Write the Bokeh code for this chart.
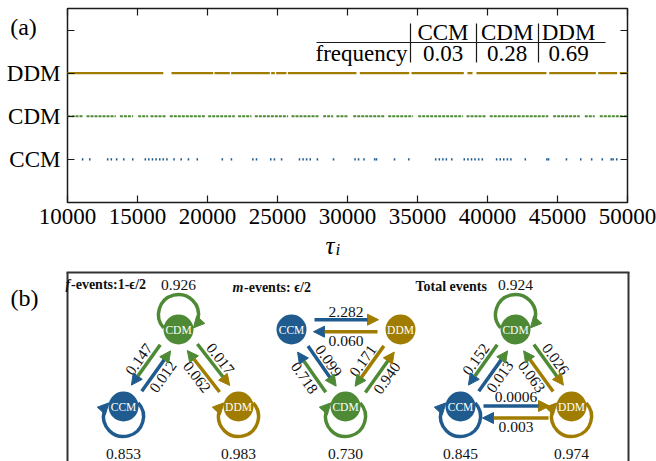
import math
from bokeh.plotting import figure
from bokeh.models import Range1d, FixedTicker, LinearAxis, Arrow, NormalHead, Label
from bokeh.layouts import column
from bokeh.embed import file_html
from bokeh.resources import INLINE
from bokeh.core.properties import value

# ---------------- data: panel (a) ----------------
state_names = ["CCM", "CDM", "DDM"]
state_levels = [1, 2, 3]
tau_ticks = [10000, 15000, 20000, 25000, 30000, 35000, 40000, 45000, 50000]
tau_start, tau_end = 10000, 50000

ccm_tau = [11080, 11590, 12870, 13130, 13510, 14020, 14660, 15560, 15810, 16070,
           16330, 16590, 16840, 17100, 17610, 18120, 18640, 19270, 21060, 21710,
           23240, 23500, 24520, 24780, 25290, 26570, 26830, 27080, 27340, 27850,
           29000, 30540, 30790, 31180, 31940, 32070, 33360, 34380, 36300, 36560,
           36810, 37060, 37450, 38340, 38600, 38860, 39110, 39370, 39630, 40650,
           40910, 41160, 41420, 41670, 42700, 44240, 44360, 45640, 46660, 47440,
           48200, 48840, 48970, 49230]

cdm_gap_start = [11120, 13450, 14690, 15760, 17070, 19810, 21950, 23140, 25760, 27980,
                 28980, 30050, 32660, 34690, 38260, 39930, 44340, 46590, 47660]
cdm_gap_end = [11360, 13740, 15050, 15930, 17310, 20050, 22190, 23380, 26000, 28260,
               29210, 30410, 32910, 35050, 38500, 40160, 44690, 46950, 48020]

ddm_gap_start = [16840, 20410, 21590, 24450, 24810, 25640, 30640, 34410, 38310, 38930,
                 44210, 47740, 49260]
ddm_gap_end = [17430, 20500, 21690, 24550, 24900, 25740, 30880, 34570, 38570, 39210,
               44410, 47910, 49450]

freq_labels = ["CCM", "CDM", "DDM"]
freq_values = [0.03, 0.28, 0.69]

# ---------------- data: panel (b) ----------------
f_src = ["CDM", "CDM", "CCM", "CDM", "DDM", "CCM", "DDM"]
f_dst = ["CDM", "CCM", "CDM", "DDM", "CDM", "CCM", "DDM"]
f_prob = [0.926, 0.147, 0.012, 0.017, 0.062, 0.853, 0.983]

m_src = ["CCM", "DDM", "CCM", "CDM", "DDM", "CDM", "CDM"]
m_dst = ["DDM", "CCM", "CDM", "CCM", "CDM", "DDM", "CDM"]
m_prob = [2.282, 0.060, 0.099, 0.718, 0.171, 0.940, 0.730]

t_src = ["CDM", "CDM", "CCM", "CDM", "DDM", "CCM", "DDM", "CCM", "DDM"]
t_dst = ["CDM", "CCM", "CDM", "DDM", "CDM", "DDM", "CCM", "CCM", "DDM"]
t_prob = [0.924, 0.152, 0.013, 0.026, 0.063, 0.0006, 0.003, 0.845, 0.974]

# ---------------- styles / layout ----------------
COL = {"CCM": "#1f5b8e", "CDM": "#4e8a35", "DDM": "#a07c00"}
SERIF = "Liberation Serif"
INK = "#1a1a1a"

# panel (a) geometry: frame at x 67..627, y 8..202 of a 656x265 canvas
FRAME_L, FRAME_W, FRAME_T, FRAME_H, H1 = 67, 560, 8, 194, 265
Y_TOP = 4.5
KX = (tau_end - tau_start) / FRAME_W
KY = Y_TOP / FRAME_H


def tx(px):  # canvas x -> tau
    return tau_start + (px - FRAME_L) * KX


def ty(py):  # canvas y -> state axis
    return Y_TOP - (py - FRAME_T) * KY


# ================= panel (a) =================
p1 = figure(width=656, height=H1, x_range=Range1d(tx(0), tx(656)), y_range=Range1d(ty(H1), ty(0)),
            output_backend="svg", toolbar_location=None, title=None,
            x_axis_location=None, y_axis_location=None, min_border=0)
p1.grid.visible = False
p1.outline_line_color = None
p1.background_fill_color = "white"
p1.border_fill_color = "white"

ov = {lvl: nm for lvl, nm in zip(state_levels, state_names)}
ov[4] = ""
ax_b = LinearAxis(ticker=FixedTicker(ticks=tau_ticks), fixed_location=0)
ax_t = LinearAxis(ticker=FixedTicker(ticks=tau_ticks), fixed_location=Y_TOP)
ax_l = LinearAxis(ticker=FixedTicker(ticks=state_levels + [4]), fixed_location=tau_start,
                  major_label_overrides=ov)
ax_r = LinearAxis(ticker=FixedTicker(ticks=state_levels + [4]), fixed_location=tau_end)
for ax in [ax_b, ax_t, ax_l, ax_r]:
    ax.axis_line_color = None
    ax.major_tick_in = 7
    ax.major_tick_out = 0
    ax.minor_tick_line_color = None
    ax.major_tick_line_color = INK
    ax.major_tick_line_width = 1.2
    ax.major_label_text_font = SERIF
    ax.major_label_text_font_size = "23px"
    ax.major_label_text_color = "black"
for ax in [ax_t, ax_r]:
    ax.major_label_text_font_size = "0px"
    ax.major_label_text_alpha = 0
ax_l.major_label_standoff = 7
ax_b.major_label_standoff = 6
p1.add_layout(ax_b, "below")
p1.add_layout(ax_t, "above")
p1.add_layout(ax_l, "left")
p1.add_layout(ax_r, "right")

# frame of panel (a)
p1.quad(left=[tau_start], right=[tau_end], bottom=[0], top=[Y_TOP], fill_color=None,
        line_color=INK, line_width=1.5)


def runs(gs, ge):
    return [tau_start] + list(ge), list(gs) + [tau_end]


x0, x1 = runs(ddm_gap_start, ddm_gap_end)
p1.segment(x0=x0, y0=[3] * len(x0), x1=x1, y1=[3] * len(x0), line_color=COL["DDM"], line_width=2.2)
x0, x1 = runs(cdm_gap_start, cdm_gap_end)
p1.segment(x0=x0, y0=[2] * len(x0), x1=x1, y1=[2] * len(x0), line_color=COL["CDM"],
           line_width=2, line_dash="3 1")
p1.rect(x=ccm_tau, y=[1] * len(ccm_tau), width=110, height=0.05,
        fill_color=COL["CCM"], line_color=None)

# frequency table
col_x = [tx(442.5), tx(506.7), tx(568)]
bar_x = [tx(410), tx(476), tx(538)]
p1.text(x=col_x, y=[ty(32)] * 3, text=freq_labels, text_font=value(SERIF), text_font_size="23px",
        text_align="center", text_baseline="middle", text_color="black")
p1.text(x=col_x, y=[ty(53)] * 3, text=[f"{v:.2f}" for v in freq_values], text_font=value(SERIF),
        text_font_size="23px", text_align="center", text_baseline="middle", text_color="black")
p1.text(x=[tx(407)], y=[ty(53)], text=["frequency"], text_font=value(SERIF), text_font_size="23px",
        text_align="right", text_baseline="middle", text_color="black")
p1.segment(x0=[tx(316)], y0=[ty(42)], x1=[tx(605)], y1=[ty(42)], line_color=INK, line_width=1.2)
p1.segment(x0=bar_x, y0=[ty(23)] * 3, x1=bar_x, y1=[ty(62)] * 3, line_color=INK, line_width=1.2)

p1.add_layout(Label(x=tx(23), y=ty(26), text="(a)", text_font=SERIF, text_font_size="24px",
                    text_align="center", text_baseline="middle", text_color="black"))
p1.add_layout(Label(x=tx(334), y=ty(245), text="τ", text_font=SERIF, text_font_size="25px",
                    text_font_style="italic", text_align="right", text_baseline="alphabetic",
                    text_color="black"))
p1.add_layout(Label(x=tx(335), y=ty(249), text="i", text_font=SERIF, text_font_size="17px",
                    text_font_style="italic", text_align="left", text_baseline="alphabetic",
                    text_color="black"))

# ================= panel (b) =================
# canvas 656x196 below panel (a); y measured upward from the window bottom (461)
H2 = 196
p2 = figure(width=656, height=H2, x_range=Range1d(0, 656), y_range=Range1d(0, H2),
            output_backend="svg", toolbar_location=None, title=None,
            x_axis_location=None, y_axis_location=None, min_border=0)
p2.grid.visible = False
p2.outline_line_color = None
p2.background_fill_color = "white"
p2.border_fill_color = "white"
p2.segment(x0=[67, 628, 66], y0=[0, 0, 189], x1=[67, 628, 629], y1=[189, 189, 189],
           line_color="#333333", line_width=2)

node_pos = {
    "f": {"CDM": (178, 132), "CCM": (123, 55), "DDM": (238, 55)},
    "m": {"CCM": (291, 132), "DDM": (400, 132), "CDM": (345, 55)},
    "t": {"CDM": (515, 132), "CCM": (460, 55), "DDM": (571, 55)},
}
loop_side = {
    "f": {"CDM": "top", "CCM": "bottom", "DDM": "bottom"},
    "m": {"CDM": "bottom"},
    "t": {"CDM": "top", "CCM": "bottom", "DDM": "bottom"},
}
# (a, b): (side of a->b arrow w.r.t. left normal of a->b, arrow-pair shift, label-pair shift)
pair_geom = {
    "f": {("CDM", "CCM"): (-1, 0.0, 0.0), ("CDM", "DDM"): (1, 0.0, 0.0)},
    "m": {("CCM", "DDM"): (1, 3.8, 3.0), ("CDM", "CCM"): (1, 2.0, 2.5),
          ("CDM", "DDM"): (-1, -2.0, -2.5)},
    "t": {("CDM", "CCM"): (-1, 0.0, 0.0), ("CDM", "DDM"): (1, 0.0, 0.0),
          ("CCM", "DDM"): (1, -5.5, -5.5)},
}

ARROW_OFF = 6.0
LABEL_OFF = 14.8
GAP_START = 23
GAP_END = 22
HEAD = 10
LW = 3.5
LOOP_R = 20
NUM_FONT = "15.5px"


def fmt(v):
    return f"{v:.4f}" if v < 0.001 else f"{v:.3f}"


def num_label(x, y, txt, ang=0.0):
    p2.text(x=[x], y=[y], text=[txt], angle=[ang], text_font=value(SERIF), text_font_size=NUM_FONT,
            text_align="center", text_baseline="middle", text_color="#111111")


def draw_diagram(key, src, dst, prob):
    pos = node_pos[key]
    for s, d, v in zip(src, dst, prob):
        if s == d:
            nx, ny = pos[s]
            c = COL[s]
            if loop_side[key][s] == "top":
                cy = ny + 15
                a_start, a_tip = 222.0, -42.0
                ly = ny + 45
            else:
                cy = ny - 10
                a_start, a_tip = 43.0, -223.0
                ly = ny - 47
            a_end = a_tip + math.degrees(HEAD / LOOP_R)
            p2.arc(x=[nx], y=[cy], radius=LOOP_R, start_angle=math.radians(a_start),
                   end_angle=math.radians(a_end), direction="clock", line_color=c, line_width=LW)
            t = math.radians(a_tip)
            tipx, tipy = nx + LOOP_R * math.cos(t), cy + LOOP_R * math.sin(t)
            tdx, tdy = math.sin(t), -math.cos(t)
            p2.add_layout(Arrow(end=NormalHead(size=HEAD + 1, fill_color=c, line_color=c, line_width=1),
                                x_start=tipx - HEAD * tdx, y_start=tipy - HEAD * tdy,
                                x_end=tipx, y_end=tipy, line_color=c, line_width=LW))
            num_label(nx, ly, fmt(v))
        else:
            if (s, d) in pair_geom[key]:
                a, b = s, d
                side, ashift, lshift = pair_geom[key][(s, d)]
            else:
                a, b = d, s
                side, ashift, lshift = pair_geom[key][(d, s)]
                side = -side
            (xa, ya), (xb, yb) = pos[a], pos[b]
            La = math.hypot(xb - xa, yb - ya)
            nxp, nyp = -(yb - ya) / La, (xb - xa) / La  # left normal of canonical a->b
            (xs, ys), (xd, yd) = pos[s], pos[d]
            dx, dy = xd - xs, yd - ys
            L = math.hypot(dx, dy)
            ux, uy = dx / L, dy / L
            off = ashift + side * ARROW_OFF
            ox, oy = off * nxp, off * nyp
            p2.add_layout(Arrow(end=NormalHead(size=HEAD + 1, fill_color=COL[d], line_color=COL[d],
                                               line_width=1),
                                x_start=xs + GAP_START * ux + ox, y_start=ys + GAP_START * uy + oy,
                                x_end=xd - GAP_END * ux + ox, y_end=yd - GAP_END * uy + oy,
                                line_color=COL[s], line_width=LW))
            loff = lshift + side * LABEL_OFF
            mx, my = (xs + xd) / 2 + loff * nxp, (ys + yd) / 2 + loff * nyp
            ang = math.atan2(dy, dx)
            if ang > math.pi / 2:
                ang -= math.pi
            elif ang <= -math.pi / 2:
                ang += math.pi
            num_label(mx, my, fmt(v), ang)
    names = list(pos.keys())
    p2.scatter(x=[pos[n][0] for n in names], y=[pos[n][1] for n in names], size=30, marker="circle",
               fill_color=[COL[n] for n in names], line_color=None)
    p2.text(x=[pos[n][0] for n in names], y=[pos[n][1] for n in names], text=names,
            text_font=value(SERIF), text_font_size="11.5px", text_align="center",
            text_baseline="middle", text_color="white")


draw_diagram("f", f_src, f_dst, f_prob)
draw_diagram("m", m_src, m_dst, m_prob)
draw_diagram("t", t_src, t_dst, t_prob)


def title(x, y, txt, style):
    p2.text(x=[x], y=[y], text=[txt], text_font=value(SERIF), text_font_size="14px",
            text_font_style=style, text_align="left", text_baseline="middle", text_color="#111111")


title(65, 177, "f", "bold italic")
title(70.5, 177, "-events:1-ϵ/2", "bold")
title(232, 174, "m", "bold italic")
title(243.5, 174, "-events: ϵ/2", "bold")
title(415, 175, "Total events", "bold")

p2.text(x=[24], y=[164], text=["(b)"], text_font=value(SERIF), text_font_size="24px",
        text_align="center", text_baseline="middle", text_color="black")

layout = column(p1, p2)
open("out.html", "w").write(file_html(layout, INLINE))
